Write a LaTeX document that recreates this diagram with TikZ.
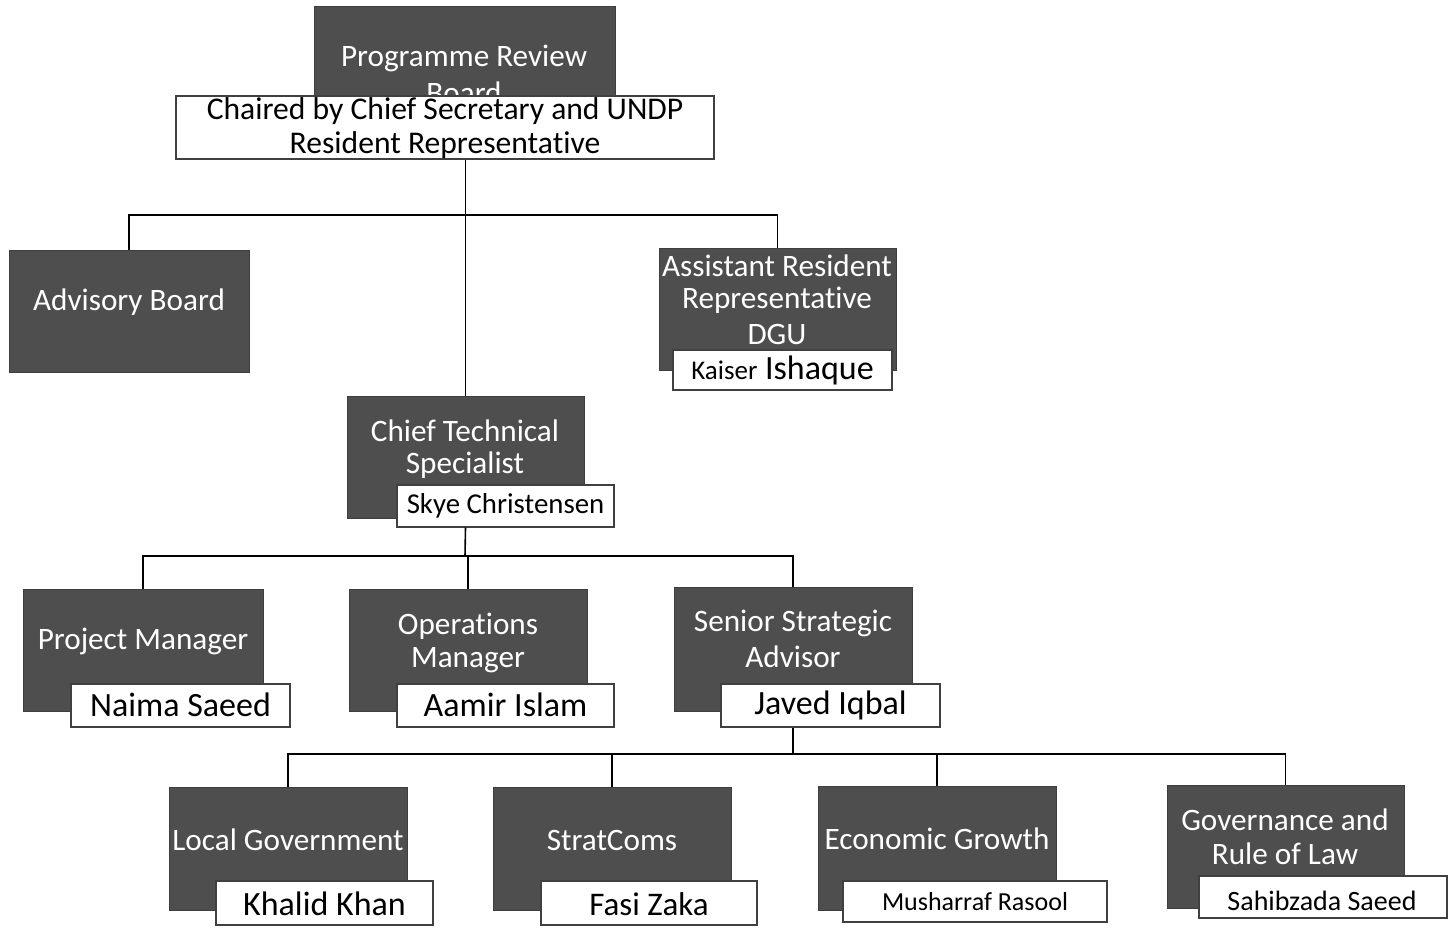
\documentclass[tikz,border=0pt]{standalone}
\usepackage{fontspec}
\setmainfont{Carlito}[Ligatures={NoCommon}]
\usetikzlibrary{fit}
\definecolor{darkbox}{HTML}{4E4E4E}
\begin{document}
\begin{tikzpicture}[x=0.5pt,y=-0.5pt,
  darkbx/.style={fill=darkbox,draw=darkbox!80!black,line width=0.4pt,inner sep=0pt},
  namebx/.style={fill=white,draw=black!75,line width=0.6pt,inner sep=0pt},
  dtxt/.style={text=white,font=\fontsize{15.6}{17}\selectfont,align=center,inner sep=0pt},
  ntxt/.style={text=black,font=\fontsize{17}{18}\selectfont,inner sep=0pt},
  conn/.style={draw=black,line width=0.8pt}]
\useasboundingbox (0,0) rectangle (1456,928);

% dark boxes
\node[darkbx, fit={(314,6) (615,100)}] (prb) {};
\node[darkbx, fit={(9,250) (249,372)}] (adv) {};
\node[darkbx, fit={(659,248) (896,370)}] (arr) {};
\node[darkbx, fit={(347,396) (584,518)}] (cts) {};
\node[darkbx, fit={(23,589) (263,711)}] (pm) {};
\node[darkbx, fit={(349,589) (587,711)}] (om) {};
\node[darkbx, fit={(674,587) (912,711)}] (ssa) {};
\node[darkbx, fit={(169,787) (407,910)}] (lg) {};
\node[darkbx, fit={(493,787) (731,910)}] (sc) {};
\node[darkbx, fit={(818,786) (1056,910)}] (eg) {};
\node[darkbx, fit={(1167,785) (1404,908)}] (grl) {};

% dark box texts
\node[dtxt] (prbt) at (464,58) {Programme Review};
\node[dtxt] (prbt2) at (464,93) {Board};
\node[dtxt] (advt) at (129,302) {Advisory Board};
\node[dtxt] (arrt1) at (777,266) {Assistant Resident};
\node[dtxt] (arrt2) at (777,300) {Representative};
\node[dtxt] (arrt3) at (777,334) {DGU};
\node[dtxt] (ctst1) at (465,431) {Chief Technical};
\node[dtxt] (ctst2) at (465,465) {Specialist};
\node[dtxt] (pmt) at (143,641) {Project Manager};
\node[dtxt] (omt1) at (468,626) {Operations};
\node[dtxt] (omt2) at (468,660) {Manager};
\node[dtxt] (ssat1) at (793,623) {Senior Strategic};
\node[dtxt] (ssat2) at (793,657) {Advisor};
\node[dtxt] (lgt) at (288,840) {Local Government};
\node[dtxt] (sct) at (612,840) {StratComs};
\node[dtxt] (egt) at (937,839) {Economic Growth};
\node[dtxt] (grlt1) at (1285,820) {Governance and};
\node[dtxt] (grlt2) at (1285,854) {Rule of Law};

% white boxes
\node[namebx, fit={(176,96) (714,159)}] (chair) {};
\node[ntxt, font=\fontsize{15.8}{17}\selectfont, align=center] (chairt) at (445,128.5) {Chaired by Chief Secretary and UNDP\\Resident Representative};
\node[namebx, fit={(673,350) (892,390)}] (kai) {};
\node[ntxt] (kait) at (782.5,370) {{\fontsize{13.5}{14}\selectfont Kaiser} Ishaque};
\node[namebx, fit={(397,485) (614,527)}] (skye) {};
\node[ntxt, font=\fontsize{14.4}{16}\selectfont] (skyet) at (505.5,506) {Skye Christensen};
\node[namebx, fit={(71,684) (290,727)}] (nai) {};
\node[ntxt] (nait) at (180.5,705) {Naima Saeed};
\node[namebx, fit={(397,684) (614,727)}] (aam) {};
\node[ntxt] (aamt) at (505.5,705) {Aamir Islam};
\node[namebx, fit={(721,684) (940,727)}] (jav) {};
\node[ntxt] (javt) at (830.5,705) {Javed Iqbal};
\node[namebx, fit={(216,881) (433,925)}] (kha) {};
\node[ntxt] (khat) at (324.5,904) {Khalid Khan};
\node[namebx, fit={(541,881) (757,925)}] (fas) {};
\node[ntxt, font=\fontsize{16.5}{18}\selectfont] (fast) at (649,904) {Fasi Zaka};
\node[namebx, fit={(843,881) (1107,922)}] (mus) {};
\node[ntxt, font=\fontsize{13}{15}\selectfont] (must) at (975,902) {Musharraf Rasool};
\node[namebx, fit={(1199,876) (1447,918)}] (sah) {};
\node[ntxt, font=\fontsize{14}{16}\selectfont] (saht) at (1322,901) {Sahibzada Saeed};

% connectors
\coordinate (j1) at (465,215);
\coordinate (j2) at (465,556);
\coordinate (j3) at (793,754);
\draw[conn] (cts.north |- chair.south) -- (cts.north);
\draw[conn] (adv.north) |- (j1) -| (arr.north);
\draw[conn] (cts.north |- skye.south) -- (j2);
\draw[conn] (pm.north) |- (j2) -| (ssa.north);
\draw[conn] (j2 -| om.north) -- (om.north);
\draw[conn] (ssa.north |- jav.south) -- (j3);
\draw[conn] (lg.north) |- (j3) -| (grl.north);
\draw[conn] (j3 -| sc.north) -- (sc.north);
\draw[conn] (j3 -| eg.north) -- (eg.north);
\end{tikzpicture}
\end{document}
